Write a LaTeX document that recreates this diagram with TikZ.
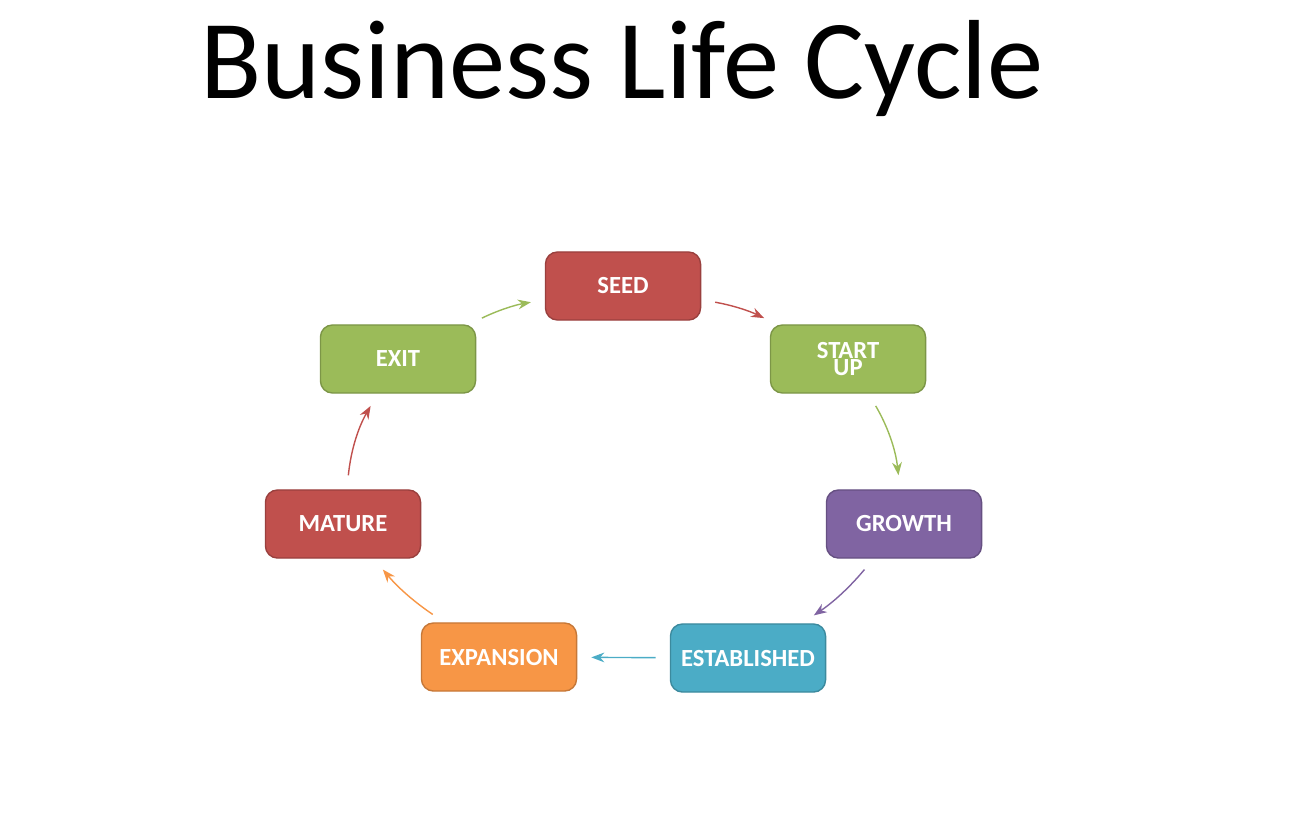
\documentclass[tikz,border=0pt]{standalone}
\usepackage{fontspec}
\setmainfont{Carlito}
\setsansfont{Carlito}
\usetikzlibrary{arrows.meta}
\definecolor{cred}{HTML}{C0504D}
\definecolor{cgreen}{HTML}{9BBB59}
\definecolor{cpurple}{HTML}{8064A2}
\definecolor{cblue}{HTML}{4BACC6}
\definecolor{corange}{HTML}{F79646}
\begin{document}
\begin{tikzpicture}
[ x=0.01cm, y=-0.01cm
, stage/.style={rectangle, rounded corners=1.2mm, minimum width=1.55cm, minimum height=0.68cm, draw=#1!80!black, fill=#1, text=white, font=\bfseries\sffamily\scriptsize, align=center, inner sep=1pt}
, link/.style={-{Stealth[length=1.3mm]}, #1, thin, shorten <=4pt, shorten >=4pt}
]
\useasboundingbox (0,0) rectangle (1304,812);
\node (title) at (622,68) {\fontsize{32}{34}\selectfont Business Life Cycle};
% Stages
\node (seed) [stage=cred] at (623,286) {SEED};
\node (startup) [stage=cgreen] at (848,359) {START\\[-3pt]UP};
\node (growth) [stage=cpurple] at (904,524) {GROWTH};
\node (established) [stage=cblue] at (748,658) {ESTABLISHED};
\node (expansion) [stage=corange] at (499,657) {EXPANSION};
\node (mature) [stage=cred] at (343,524) {MATURE};
\node (exit) [stage=cgreen] at (398,359) {EXIT};
% Arrows
\draw [link=cred] (seed) to[bend left=8] (startup);
\draw [link=cgreen] (startup) to[bend left=12] (growth);
\draw [link=cpurple] (growth) to[bend left=8] (established);
\draw [link=cblue] (established) -- (expansion);
\draw [link=corange] (expansion) to[bend left=8] (mature);
\draw [link=cred] (mature) to[bend left=12] (exit);
\draw [link=cgreen] (exit) to[bend left=8] (seed);
\end{tikzpicture}
\end{document}
